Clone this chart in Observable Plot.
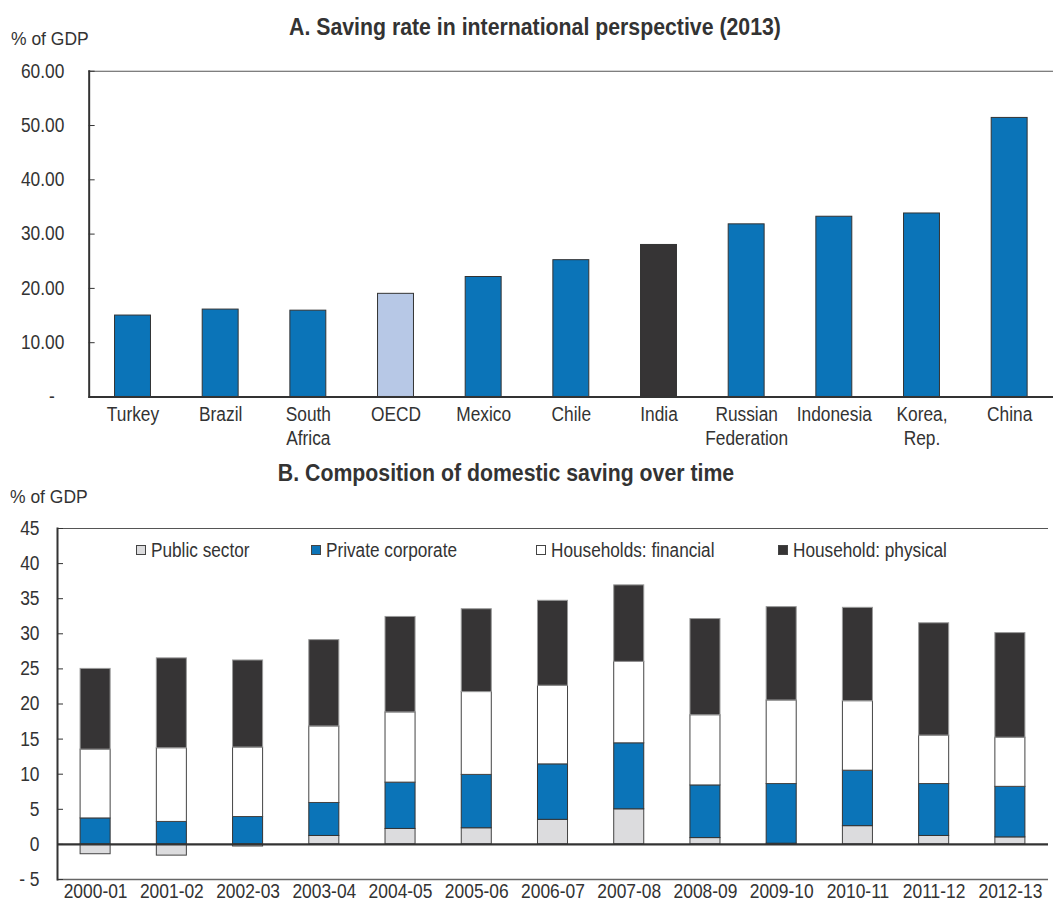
<!DOCTYPE html>
<html>
<head>
<meta charset="utf-8">
<script src="https://cdn.jsdelivr.net/npm/d3@7"></script>
<script src="https://cdn.jsdelivr.net/npm/@observablehq/plot@0.6"></script>
<style>
  body { margin: 0; background: #fff; }
  #wrap { position: relative; width: 1054px; height: 905px; overflow: hidden; font-family: "Liberation Sans Narrow", "Arial Narrow", "Liberation Sans", Arial, sans-serif; color: #333; }
  .abs { position: absolute; white-space: nowrap; }
  .title { font-weight: bold; font-size: 23px; line-height: 23px; transform: translateX(-50%) scaleX(0.925); }
  .unit { font-size: 19px; line-height: 19px; transform: scaleX(0.92); transform-origin: left center; }
  .leg { font-size: 20px; line-height: 20px; display: flex; align-items: center; }
  .leg .lt { display: inline-block; transform: scaleX(0.86); transform-origin: left center; }
  .sw { display: inline-block; width: 10px; height: 10px; border: 1px solid #333; margin-right: 5px; box-sizing: border-box; }
</style>
</head>
<body>
<div id="wrap">
  <div id="chartA" class="abs" style="left:0;top:0"></div>
  <div id="chartB" class="abs" style="left:0;top:460px"></div>
  <div class="abs title" style="left:535px;top:16px">A. Saving rate in international perspective (2013)</div>
  <div class="abs unit" style="left:11px;top:29px">% of GDP</div>
  <div class="abs title" style="left:506px;top:462px">B. Composition of domestic saving over time</div>
  <div class="abs unit" style="left:10px;top:487px">% of GDP</div>
  <div id="legend"></div>
</div>
<script>
// ---------- Panel A data ----------
const countries = ["Turkey", "Brazil", "South\nAfrica", "OECD", "Mexico", "Chile", "India", "Russian\nFederation", "Indonesia", "Korea,\nRep.", "China"];
const savingRate = [15.0, 16.1, 15.9, 19.0, 22.1, 25.2, 28.0, 31.8, 33.2, 33.8, 51.4];
const yTicksA = [0, 10, 20, 30, 40, 50, 60];

// ---------- Panel B data ----------
const years = ["2000-01", "2001-02", "2002-03", "2003-04", "2004-05", "2005-06", "2006-07", "2007-08", "2008-09", "2009-10", "2010-11", "2011-12", "2012-13"];
const seriesNames = ["Public sector", "Private corporate", "Households: financial", "Household: physical"];
const publicSector = [-1.4, -1.6, -0.3, 1.2, 2.2, 2.3, 3.5, 5.0, 0.9, 0.1, 2.6, 1.2, 1.0];
const privateCorporate = [3.7, 3.2, 3.9, 4.7, 6.6, 7.6, 7.9, 9.4, 7.5, 8.5, 7.9, 7.4, 7.2];
const householdsFinancial = [9.8, 10.5, 9.9, 10.9, 10.0, 11.8, 11.2, 11.6, 10.0, 11.9, 9.9, 6.9, 7.0];
const householdPhysical = [11.5, 12.8, 12.4, 12.3, 13.6, 11.8, 12.1, 10.9, 13.7, 13.3, 13.3, 16.0, 14.9];
const yTicksB = [-5, 0, 5, 10, 15, 20, 25, 30, 35, 40, 45];

// ---------- styling ----------
const FONT = '"Liberation Sans Narrow", "Arial Narrow", "Liberation Sans", Arial, sans-serif';
const BLUE = "#0B74B8";
const colorA = {"OECD": "#B7C8E6", "India": "#363435"};
const seriesFill = {"Public sector": "#DCDCDE", "Private corporate": BLUE, "Households: financial": "#FFFFFF", "Household: physical": "#363435"};
const seriesStroke = {"Public sector": "#444", "Private corporate": "#333", "Households: financial": "#444", "Household: physical": "#999"};

// narrow the (non-condensed) installed font so text widths match the reference
function squeeze(svg, k) {
  svg.querySelectorAll("text").forEach(t => {
    const spans = t.querySelectorAll("tspan");
    const els = spans.length ? [...spans] : [t];
    els.forEach(e => {
      const L = e.getComputedTextLength();
      if (L > 0) {
        e.setAttribute("textLength", (L * k).toFixed(2));
        e.setAttribute("lengthAdjust", "spacingAndGlyphs");
      }
    });
  });
}

// ---------- Panel A ----------
const dataA = countries.map((c, i) => ({country: c, value: savingRate[i]}));
const chartA = Plot.plot({
  width: 1058,
  height: 460,
  marginTop: 71,
  marginBottom: 62,
  marginLeft: 89,
  marginRight: 1,
  style: {fontFamily: FONT, fontSize: "20px", color: "#333", background: "transparent", overflow: "visible"},
  x: {domain: countries, paddingInner: 0.59, paddingOuter: 0.295, round: false, label: null},
  y: {domain: [0, 60], label: null},
  marks: [
    Plot.ruleY([60], {stroke: "#555", strokeWidth: 1.2}),
    Plot.barY(dataA, {x: "country", y: "value", fill: d => colorA[d.country] || BLUE, stroke: "#333", strokeWidth: 1}),
    Plot.ruleY([0], {stroke: "#333", strokeWidth: 2}),
    Plot.frame({anchor: "left", stroke: "#333", strokeWidth: 2}),
    Plot.axisY({ticks: yTicksA, tickSize: 0, tickPadding: 25, fontSize: 20,
      tickFormat: d => d === 0 ? "-\u00a0\u00a0" : d.toFixed(2)}),
    Plot.axisY({ticks: yTicksA, tickSize: 6, insetLeft: 6, tickFormat: () => "", stroke: "#333"}),
    Plot.axisX({tickSize: 0, tickPadding: 7, fontSize: 20, lineHeight: 1.2})
  ]
});
document.getElementById("chartA").append(chartA);
squeeze(chartA, 0.87);

// ---------- Panel B ----------
const seriesValues = [publicSector, privateCorporate, householdsFinancial, householdPhysical];
const dataB = [];
seriesNames.forEach((s, k) => years.forEach((y, i) => dataB.push({year: y, series: s, value: seriesValues[k][i]})));

const chartB = Plot.plot({
  width: 1054,
  height: 445,
  marginTop: 68,
  marginBottom: 26,
  marginLeft: 57,
  marginRight: 6,
  style: {fontFamily: FONT, fontSize: "20px", color: "#333", background: "transparent", overflow: "visible"},
  x: {domain: years, paddingInner: 0.606, paddingOuter: 0.303, round: false, label: null},
  y: {domain: [-5, 45], label: null},
  marks: [
    Plot.ruleY([45], {stroke: "#555", strokeWidth: 1.2}),
    Plot.ruleY([-5], {stroke: "#666", strokeWidth: 1.5}),
    Plot.barY(dataB, {x: "year", y: "value", fill: d => seriesFill[d.series], stroke: d => seriesStroke[d.series], strokeWidth: 1}),
    Plot.ruleY([0], {stroke: "#333", strokeWidth: 2.2}),
    Plot.frame({anchor: "left", stroke: "#333", strokeWidth: 2}),
    Plot.axisY({ticks: yTicksB, tickSize: 0, tickPadding: 18, fontSize: 20,
      tickFormat: d => d < 0 ? "- " + Math.abs(d) : String(d)}),
    Plot.axisY({ticks: yTicksB, tickSize: 6, insetLeft: 6, tickFormat: () => "", stroke: "#333"}),
    Plot.axisX({tickSize: 0, tickPadding: 4, fontSize: 20})
  ]
});
document.getElementById("chartB").append(chartB);
squeeze(chartB, 0.87);

// ---------- Legend (inside panel B) ----------
const legendX = [136, 311, 536, 778];
const legend = document.getElementById("legend");
seriesNames.forEach((s, k) => {
  const item = document.createElement("div");
  item.className = "abs leg";
  item.style.left = legendX[k] + "px";
  item.style.top = "540px";
  const sw = document.createElement("span");
  sw.className = "sw";
  sw.style.background = seriesFill[s];
  sw.style.borderColor = "#444";
  const lt = document.createElement("span");
  lt.className = "lt";
  lt.textContent = s;
  item.append(sw, lt);
  legend.append(item);
});
</script>
</body>
</html>
